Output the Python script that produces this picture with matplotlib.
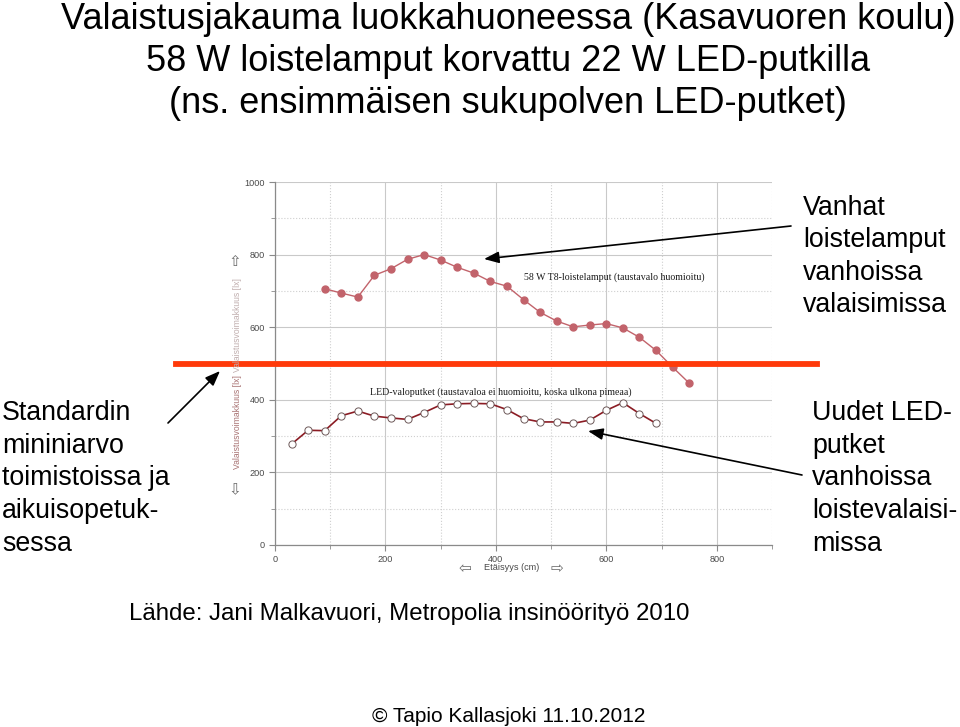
import matplotlib
matplotlib.use("Agg")
import matplotlib.pyplot as plt
from matplotlib.ticker import MultipleLocator

W, H = 960, 727

# data
dist_old = [90, 120, 150, 180, 210, 240, 270, 300, 330, 360, 390, 420,
            450, 480, 510, 540, 570, 600, 630, 660, 690, 720, 750]
lux_old = [706, 694, 683, 743, 761, 787, 800, 785, 765, 749, 726, 713,
           676, 641, 617, 601, 606, 610, 598, 572, 536, 490, 446]
dist_led = [30, 60, 90, 120, 150, 180, 210, 240, 270, 300, 330, 360,
            390, 420, 450, 480, 510, 540, 570, 600, 630, 660, 690]
lux_led = [278, 316, 315, 356, 369, 355, 350, 346, 365, 386, 389, 390,
           389, 373, 348, 339, 339, 335, 344, 371, 392, 362, 335]
standard_min = 500

title_lines = ["Valaistusjakauma luokkahuoneessa (Kasavuoren koulu)",
               "58 W loistelamput korvattu 22 W LED-putkilla",
               "(ns. ensimmäisen sukupolven LED-putket)"]
old_note = ["Vanhat", "loistelamput", "vanhoissa", "valaisimissa"]
std_note = ["Standardin", "mininiarvo", "toimistoissa ja", "aikuisopetuk-", "sessa"]
led_note = ["Uudet LED-", "putket", "vanhoissa", "loistevalaisi-", "missa"]
source = "Lähde: Jani Malkavuori, Metropolia insinöörityö 2010"
copyright_txt = "© Tapio Kallasjoki 11.10.2012"

SANS = "Liberation Sans"
SERIF = "Liberation Serif"


def fx(x):
    return x / W


def fy(y):
    return 1 - y / H


fig = plt.figure(figsize=(9.6, 7.27), dpi=100)
fig.patch.set_facecolor("white")

ax = fig.add_axes([fx(275), fy(545), (772 - 275) / W, (545 - 182) / H])
ax.set_xlim(0, 900)
ax.set_ylim(0, 1000)
ax.xaxis.set_major_locator(MultipleLocator(200))
ax.xaxis.set_minor_locator(MultipleLocator(100))
ax.yaxis.set_major_locator(MultipleLocator(200))
ax.yaxis.set_minor_locator(MultipleLocator(100))
ax.set_xticks([0, 200, 400, 600, 800])
ax.grid(which="major", color="#c9c9c9", lw=0.8, ls="-")
ax.grid(which="minor", color="#cfcfcf", lw=0.8, ls=":")
ax.set_axisbelow(True)
for s in ["top", "right"]:
    ax.spines[s].set_visible(False)
for s in ["left", "bottom"]:
    ax.spines[s].set_color("#8a8a8a")
    ax.spines[s].set_linewidth(0.9)
ax.tick_params(which="major", length=4, color="#8a8a8a", labelsize=6.6,
               labelcolor="#4a4a4a")
ax.tick_params(which="minor", length=3, color="#8a8a8a")
for lab in ax.get_xticklabels() + ax.get_yticklabels():
    lab.set_family(SANS)

ax.plot(dist_old, lux_old, color="#c2636b", lw=1.0, marker="o", ms=5,
        mfc="#c2636b", mec="#c2636b", clip_on=False, zorder=3)
ax.plot(dist_led, lux_led, color="#8b1c24", lw=1.2, marker="o", ms=5.2,
        mfc="white", mec="#6e5a5a", mew=0.7, clip_on=False, zorder=3)

ax.text(614, 738, "58 W T8-loistelamput (taustavalo huomioitu)", family=SERIF,
        fontsize=7.1, ha="center", va="center", color="#1a1a1a")
ax.text(409, 422, "LED-valoputket (taustavaloa ei huomioitu, koska ulkona pimeaa)",
        family=SERIF, fontsize=7.1, ha="center", va="center", color="#1a1a1a")

# standard minimum line
ax.axhline(standard_min, xmin=-0.2, xmax=1.09, color="#ff3a0a", lw=4.2,
           clip_on=False, zorder=4)

# axis captions
fig.text(fx(237), fy(325), "Valaistusvoimakkuus [lx]", rotation=90, family=SANS,
         fontsize=6.2, color="#c0aeae", ha="center", va="center")
fig.text(fx(237), fy(422), "Valaistusvoimakkuus [lx]", rotation=90, family=SANS,
         fontsize=6.2, color="#a87272", ha="center", va="center")
fig.text(fx(235), fy(262), "⇧", family="DejaVu Sans", fontsize=11, color="#6a6a6a",
         ha="center", va="center")
fig.text(fx(235), fy(490), "⇩", family="DejaVu Sans", fontsize=11, color="#6a6a6a",
         ha="center", va="center")
fig.text(fx(512), fy(568), "Etäisyys (cm)", family=SANS, fontsize=6.6,
         color="#4a4a4a", ha="center", va="center")
fig.text(fx(465), fy(568), "⇦", family="DejaVu Sans", fontsize=11, color="#6a6a6a",
         ha="center", va="center")
fig.text(fx(557), fy(568), "⇨", family="DejaVu Sans", fontsize=11, color="#6a6a6a",
         ha="center", va="center")

# title
for i, line in enumerate(title_lines):
    fig.text(fx(508), fy(29 + 42 * i), line, family=SANS, fontsize=26,
             ha="center", va="baseline", color="black")

# notes
for i, line in enumerate(old_note):
    fig.text(fx(803), fy(215 + 32.4 * i), line, family=SANS, fontsize=19.3,
             ha="left", va="baseline")
for i, line in enumerate(std_note):
    fig.text(fx(2), fy(420 + 32.7 * i), line, family=SANS, fontsize=19.3,
             ha="left", va="baseline")
for i, line in enumerate(led_note):
    fig.text(fx(812), fy(420 + 32.7 * i), line, family=SANS, fontsize=19.3,
             ha="left", va="baseline")

fig.text(fx(409), fy(620), source, family=SANS, fontsize=17.3,
         ha="center", va="baseline")
fig.text(fx(509), fy(722), copyright_txt, family=SANS, fontsize=15,
         ha="center", va="baseline")

# pointer arrows
arrows = [((791, 226), (484, 259)),
          ((802, 475), (588, 431)),
          ((168, 423), (220, 371))]
for (x0, y0), (x1, y1) in arrows:
    ax.annotate("", xy=(fx(x1), fy(y1)), xycoords="figure fraction",
                xytext=(fx(x0), fy(y0)), textcoords="figure fraction",
                arrowprops=dict(arrowstyle="-|>,head_length=0.9,head_width=0.35",
                                color="black", lw=1.2, shrinkA=0, shrinkB=0),
                annotation_clip=False)

fig.savefig("out.png", dpi=100)
